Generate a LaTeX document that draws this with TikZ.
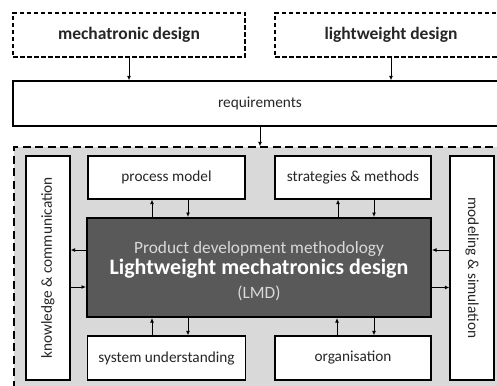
\documentclass[tikz,border=0pt]{standalone}
\usepackage{fontspec}
\setmainfont{Carlito}
\usetikzlibrary{arrows.meta}
\definecolor{regiongray}{HTML}{D9D9D9}
\definecolor{darkfill}{HTML}{595959}
\definecolor{lighttext}{HTML}{D9D9D9}
\begin{document}
\begin{tikzpicture}[x=1pt,y=-1pt,
  box/.style={draw=black,line width=1.3pt,fill=white,rectangle,inner sep=0pt,anchor=center,font=\fontsize{15.3}{18}\selectfont,text=black!85},
  dbox/.style={box,dash pattern=on 4.5pt off 2.5pt,font=\bfseries\fontsize{17.5}{20}\selectfont},
  arr/.style={line width=0.9pt,-{Latex[length=4.5pt,width=4pt]}}]
\useasboundingbox (0,0) rectangle (497,385);
\clip (0,0) rectangle (497,385);
% top boxes
\node[dbox,minimum width=232pt,minimum height=44pt] (mech) at (129,35) {mechatronic design};
\node[dbox,minimum width=232pt,minimum height=44pt] (light) at (391,35) {lightweight design};
\node[box,minimum width=494pt,minimum height=45pt] (req) at (260,103.5) {requirements};
% region
\node[draw=black,line width=1.4pt,dash pattern=on 8pt off 4.5pt,fill=regiongray,rectangle,inner sep=0pt,minimum width=492pt,minimum height=245pt] (region) at (260,269.5) {};
% side boxes
\node[box,minimum width=44pt,minimum height=224pt] (know) at (48,268) {\rotatebox{90}{knowledge \& communication}};
\node[box,minimum width=44pt,minimum height=224pt] (model) at (472,268) {\rotatebox{-90}{modeling \& simulation}};
% inner boxes
\node[box,minimum width=157pt,minimum height=43pt] (proc) at (166.5,177.5) {process model};
\node[box,minimum width=156pt,minimum height=43pt] (strat) at (353,177.5) {strategies \& methods};
\node[box,minimum width=158pt,minimum height=44pt] (sys) at (166.5,358) {system understanding};
\node[box,minimum width=156pt,minimum height=44pt] (org) at (353,358) {organisation};
% central
\node[draw=black,line width=2pt,fill=darkfill,rectangle,inner sep=0pt,minimum width=344pt,minimum height=99pt] (lmd) at (259,267.5) {};
\node[inner sep=0pt,align=center] (lmdtext) at (259,271)
 {{\color{lighttext}\fontsize{17.3}{20}\selectfont Product development methodology}\\[2pt]
  {\color{white}\bfseries\fontsize{22}{24}\selectfont Lightweight mechatronics design}\\[6pt]
  {\color{lighttext}\fontsize{17.3}{20}\selectfont (LMD)}};
% arrows top
\draw[arr] (mech.south) -- (mech.south |- req.north);
\draw[arr] (light.south) -- (light.south |- req.north);
\draw[arr] (req.south) -- (region.north);
% arrows inner
\draw[arr] ([xshift=-14.5pt]proc.south |- lmd.north) -- ([xshift=-14.5pt]proc.south);
\draw[arr] ([xshift=21.5pt]proc.south) -- ([xshift=21.5pt]proc.south |- lmd.north);
\draw[arr] ([xshift=-15pt]strat.south |- lmd.north) -- ([xshift=-15pt]strat.south);
\draw[arr] ([xshift=21pt]strat.south) -- ([xshift=21pt]strat.south |- lmd.north);
\draw[arr] ([xshift=-14.5pt]sys.north) -- ([xshift=-14.5pt]sys.north |- lmd.south);
\draw[arr] ([xshift=21.5pt]sys.north |- lmd.south) -- ([xshift=21.5pt]sys.north);
\draw[arr] ([xshift=-16pt]org.north) -- ([xshift=-16pt]org.north |- lmd.south);
\draw[arr] ([xshift=21pt]org.north |- lmd.south) -- ([xshift=21pt]org.north);
% side arrows
\draw[arr] ([yshift=17.5pt]lmd.west) -- ([yshift=17.5pt]lmd.west -| know.east);
\draw[arr] ([yshift=-19.5pt]lmd.west -| know.east) -- ([yshift=-19.5pt]lmd.west);
\draw[arr] ([yshift=17.5pt]lmd.east -| model.west) -- ([yshift=17.5pt]lmd.east);
\draw[arr] ([yshift=-20pt]lmd.east) -- ([yshift=-20pt]lmd.east -| model.west);
\end{tikzpicture}
\end{document}
